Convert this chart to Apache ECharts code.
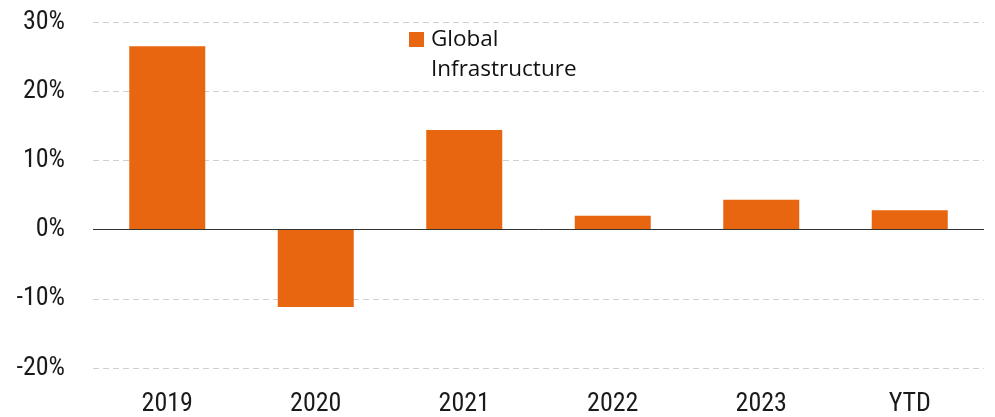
<!DOCTYPE html>
<html>
<head>
<meta charset="utf-8">
<title>Global Infrastructure</title>
<script src="https://cdn.jsdelivr.net/npm/echarts@6/dist/echarts.min.js"></script>
<style>
	html, body { margin: 0; padding: 0; background: #fff; }
	#mychart { width: 995px; height: 417px; }
</style>
</head>
<body>
<div id="mychart"></div>
<script>
	// values, in percent
	const categories = ['2019', '2020', '2021', '2022', '2023', 'YTD']
	const returns = [26.5, -11.2, 14.4, 2.0, 4.3, 2.8]
	const seriesName = 'Global'
	const legendSecondLine = 'Infrastructure'
	const yTicks = [-20, -10, 0, 10, 20, 30]

	const axisFont = "'Liberation Sans Narrow', 'Roboto Condensed', 'DejaVu Sans Condensed', 'Liberation Sans', sans-serif"
	const legendFont = "'Open Sans', 'Noto Sans', sans-serif"

	const chart = echarts.init(document.getElementById('mychart'))
	var option = {
		animation: false,
		grid: {
			left: 93,
			right: 11,
			top: 22,
			bottom: 48
		},
		legend: {
			left: 409,
			top: 28,
			itemWidth: 15,
			itemHeight: 15,
			icon: 'rect',
			padding: 0,
			textStyle: {
				fontFamily: legendFont,
				fontSize: 22.5,
				color: '#111',
				padding: [0, 0, 0, 2]
			},
			data: [seriesName]
		},
		graphic: [
			{
				type: 'text',
				left: 431,
				top: 58,
				style: {
					text: legendSecondLine,
					font: '22.5px ' + legendFont,
					fill: '#111'
				}
			}
		],
		xAxis: {
			type: 'category',
			data: categories,
			axisLine: { show: false, onZero: false },
			axisTick: { show: false },
			axisLabel: {
				margin: 23,
				fontFamily: axisFont,
				fontSize: 26,
				color: '#1a1a1a'
			}
		},
		yAxis: {
			type: 'value',
			min: yTicks[0],
			max: yTicks[yTicks.length - 1],
			interval: 10,
			axisLine: { show: false },
			axisTick: { show: false },
			axisLabel: {
				margin: 28,
				fontFamily: axisFont,
				fontSize: 26,
				color: '#1a1a1a',
				formatter: '{value}%'
			},
			splitLine: {
				lineStyle: {
					color: '#d0d0d0',
					type: [6, 4],
					width: 1
				}
			}
		},
		series: [
			{
				name: seriesName,
				type: 'bar',
				data: returns,
				barWidth: 76,
				itemStyle: { color: '#e8660f' },
				markLine: {
					silent: true,
					symbol: 'none',
					label: { show: false },
					lineStyle: { color: '#333', type: 'solid', width: 1 },
					data: [{ yAxis: 0 }]
				}
			}
		]
	}
	chart.setOption(option)
	window.addEventListener('resize', function () {
		chart.resize()
	})
</script>
</body>
</html>
